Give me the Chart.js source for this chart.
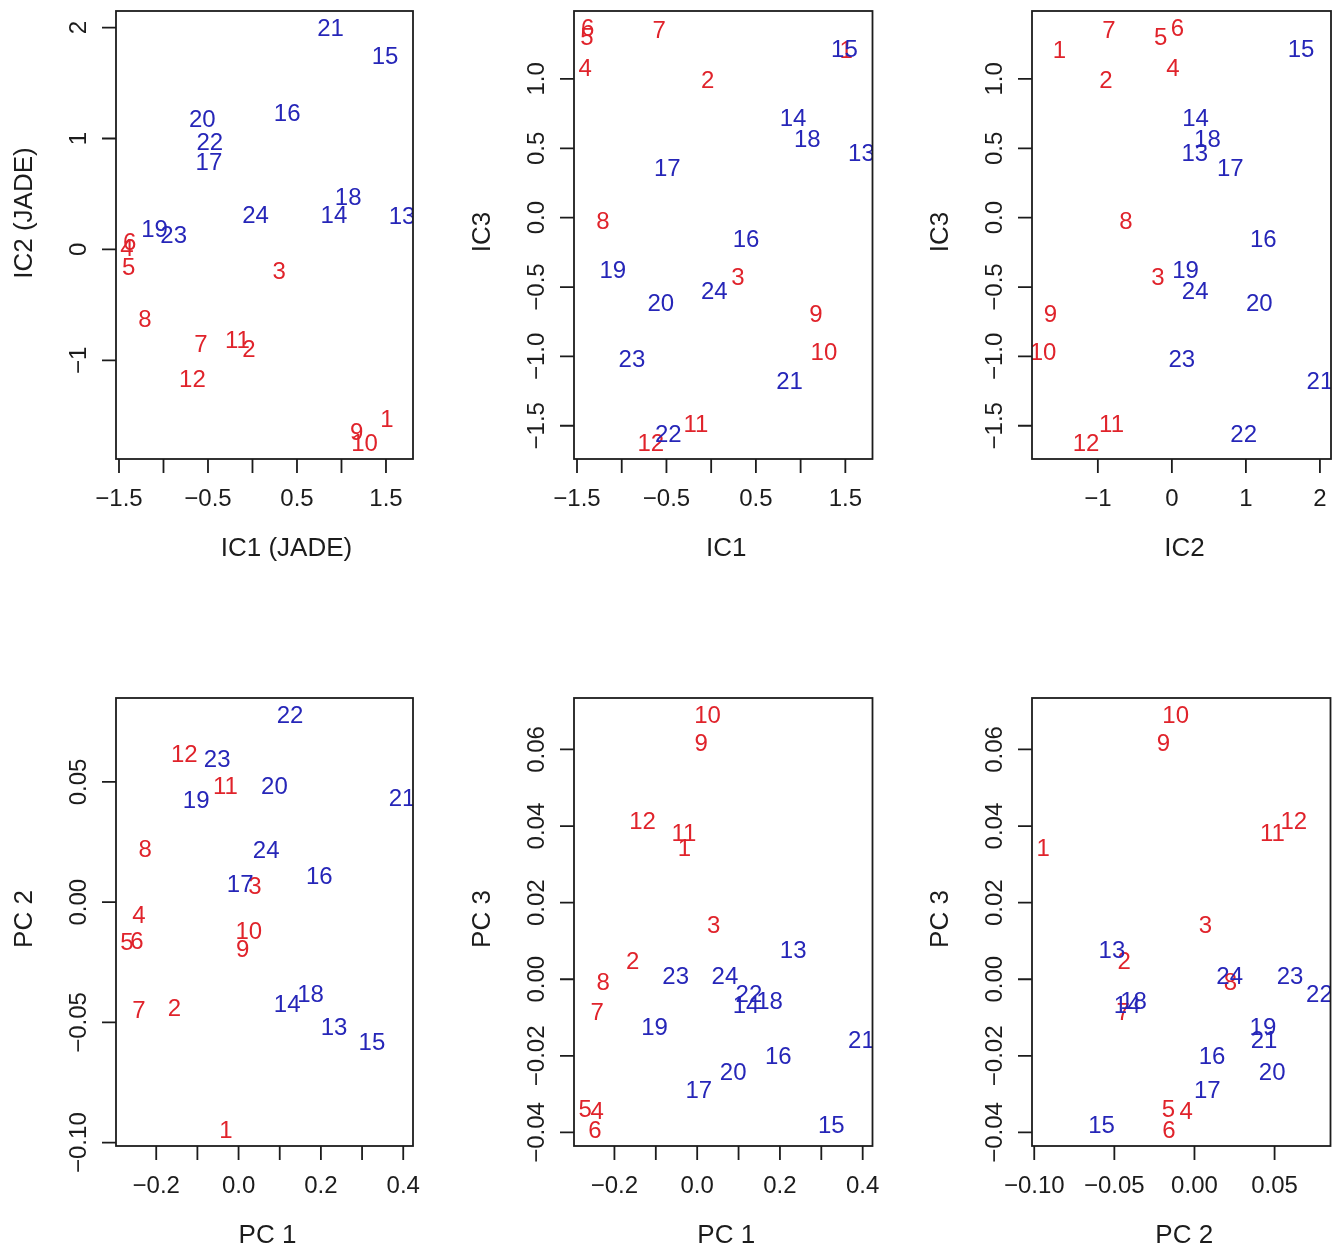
<!DOCTYPE html>
<html>
<head>
<meta charset="utf-8">
<script src="https://cdn.jsdelivr.net/npm/chart.js@4.4.1/dist/chart.umd.min.js"></script>
<style>
  html, body { margin: 0; padding: 0; background: #ffffff; }
  #wrap { position: relative; width: 1336px; height: 1249px; overflow: hidden; background: #ffffff; }
  #wrap canvas { position: absolute; }
</style>
</head>
<body>
<div id="wrap"></div>
<script>
// ---- samples: 1-12 (red group), 13-24 (blue group) ----
const sampleIds = [1, 2, 3, 4, 5, 6, 7, 8, 9, 10, 11, 12,
                   13, 14, 15, 16, 17, 18, 19, 20, 21, 22, 23, 24];

// independent components (JADE)
const ic1 = [1.51, -0.04, 0.30, -1.41, -1.39, -1.38, -0.58, -1.21, 1.17, 1.26, -0.17, -0.675,
             1.68, 0.915, 1.49, 0.39, -0.49, 1.075, -1.10, -0.564, 0.877, -0.48, -0.886, 0.035];
const ic2 = [-1.52, -0.89, -0.19, 0.015, -0.15, 0.075, -0.85, -0.62, -1.64, -1.74, -0.815, -1.16,
             0.31, 0.32, 1.745, 1.235, 0.79, 0.48, 0.185, 1.18, 2.0, 0.97, 0.134, 0.315];
const ic3 = [1.21, 0.995, -0.425, 1.08, 1.31, 1.37, 1.36, -0.017, -0.693, -0.964, -1.48, -1.62,
             0.469, 0.724, 1.222, -0.149, 0.359, 0.572, -0.372, -0.609, -1.174, -1.555, -1.016, -0.525];

// principal components
const pc1 = [-0.031, -0.156, 0.040, -0.242, -0.271, -0.247, -0.242, -0.227, 0.0098, 0.025, -0.032, -0.132,
             0.232, 0.118, 0.324, 0.196, 0.004, 0.175, -0.103, 0.087, 0.397, 0.125, -0.052, 0.067];
const pc2 = [-0.0945, -0.0438, 0.0068, -0.0051, -0.0162, -0.016, -0.0445, 0.0224, -0.0194, -0.0117, 0.0486, 0.062,
             -0.0515, -0.042, -0.058, 0.011, 0.008, -0.038, 0.0427, 0.0485, 0.0434, 0.078, 0.0597, 0.022];
const pc3 = [0.0345, 0.0049, 0.0144, -0.0342, -0.0338, -0.0392, -0.0084, -0.0006, 0.0619, 0.0691, 0.0384, 0.0415,
             0.0078, -0.0065, -0.0380, -0.0200, -0.0288, -0.0055, -0.0122, -0.0240, -0.0158, -0.0036, 0.0010, 0.0010];

// tick positions and their printed labels ('' = tick without label)
const ic1Ticks = [-1.5, -1, -0.5, 0, 0.5, 1, 1.5];
const ic1TickLabels = ['\u22121.5', '', '\u22120.5', '', '0.5', '', '1.5'];
const ic2Ticks = [-1, 0, 1, 2];
const ic2TickLabels = ['\u22121', '0', '1', '2'];
const ic3Ticks = [-1.5, -1, -0.5, 0, 0.5, 1];
const ic3TickLabels = ['\u22121.5', '\u22121.0', '\u22120.5', '0.0', '0.5', '1.0'];
const pc1Ticks = [-0.2, -0.1, 0, 0.1, 0.2, 0.3, 0.4];
const pc1TickLabels = ['\u22120.2', '', '0.0', '', '0.2', '', '0.4'];
const pc2Ticks = [-0.10, -0.05, 0, 0.05];
const pc2TickLabels = ['\u22120.10', '\u22120.05', '0.00', '0.05'];
const pc3Ticks = [-0.04, -0.02, 0, 0.02, 0.04, 0.06];
const pc3TickLabels = ['\u22120.04', '\u22120.02', '0.00', '0.02', '0.04', '0.06'];

// ---- styling ----
const FONT = '"Liberation Sans", Arial, Helvetica, sans-serif';
const CAP = 0.716;              // cap height of the face, in em
const RED = '#e0232b';
const BLUE = '#2626b8';
const INK = '#1c1c1c';
const LABEL_PX = 24;
const TICK_PX = 24;
const TITLE_PX = 26;
const TICK_LEN = 14;

// plot frames: [left, top, width, height] in page pixels; shift = title offset along its text
const panels = [
  { xs: ic1, ys: ic2, xt: ic1Ticks, xl: ic1TickLabels, yt: ic2Ticks, yl: ic2TickLabels,
    xTitle: 'IC1 (JADE)', yTitle: 'IC2 (JADE)', frame: [116, 11, 297, 448], shift: 22 },
  { xs: ic1, ys: ic3, xt: ic1Ticks, xl: ic1TickLabels, yt: ic3Ticks, yl: ic3TickLabels,
    xTitle: 'IC1', yTitle: 'IC3', frame: [574, 11, 298.5, 448], shift: 3 },
  { xs: ic2, ys: ic3, xt: ic2Ticks, xl: ic2TickLabels, yt: ic3Ticks, yl: ic3TickLabels,
    xTitle: 'IC2', yTitle: 'IC3', frame: [1032, 11, 299, 448], shift: 3 },
  { xs: pc1, ys: pc2, xt: pc1Ticks, xl: pc1TickLabels, yt: pc2Ticks, yl: pc2TickLabels,
    xTitle: 'PC 1', yTitle: 'PC 2', frame: [116, 698, 297, 448], shift: 3 },
  { xs: pc1, ys: pc3, xt: pc1Ticks, xl: pc1TickLabels, yt: pc3Ticks, yl: pc3TickLabels,
    xTitle: 'PC 1', yTitle: 'PC 3', frame: [574, 698, 298.5, 448], shift: 3 },
  { xs: pc2, ys: pc3, xt: pc2Ticks, xl: pc2TickLabels, yt: pc3Ticks, yl: pc3TickLabels,
    xTitle: 'PC 2', yTitle: 'PC 3', frame: [1032, 698, 298.5, 448], shift: 3 }
];

// axis limits: data range widened by 4% on each side
function paddedRange(vals) {
  const lo = Math.min(...vals), hi = Math.max(...vals);
  const pad = (hi - lo) * 0.04;
  return { min: lo - pad, max: hi + pad };
}

// text centred on (x, y) using the cap height for the vertical middle
function centred(ctx, str, x, y, size, color) {
  ctx.font = size + 'px ' + FONT;
  ctx.fillStyle = color;
  ctx.textAlign = 'center';
  ctx.textBaseline = 'alphabetic';
  ctx.fillText(str, x, y + size * CAP / 2);
}
function centredUp(ctx, str, x, y, size, color) {
  ctx.save();
  ctx.translate(x, y);
  ctx.rotate(-Math.PI / 2);
  centred(ctx, str, 0, 0, size, color);
  ctx.restore();
}

// frame, tick marks, tick labels and axis titles, placed through the chart's scales
const frameAxes = {
  id: 'frameAxes',
  afterDraw(chart, args, o) {
    const { ctx, chartArea: a } = chart;
    const xs = chart.scales.x, ys = chart.scales.y;
    ctx.save();
    ctx.strokeStyle = INK;
    ctx.lineWidth = 1.8;
    ctx.strokeRect(a.left, a.top, a.right - a.left, a.bottom - a.top);

    ctx.beginPath();
    o.xTicks.forEach(v => {
      const px = xs.getPixelForValue(v);
      ctx.moveTo(px, a.bottom);
      ctx.lineTo(px, a.bottom + TICK_LEN);
    });
    o.yTicks.forEach(v => {
      const py = ys.getPixelForValue(v);
      ctx.moveTo(a.left, py);
      ctx.lineTo(a.left - TICK_LEN, py);
    });
    ctx.stroke();

    o.xTicks.forEach((v, i) => {
      if (o.xLabels[i]) centred(ctx, o.xLabels[i], xs.getPixelForValue(v), a.bottom + 38.5, TICK_PX, INK);
    });
    o.yTicks.forEach((v, i) => {
      if (o.yLabels[i]) centredUp(ctx, o.yLabels[i], a.left - 39, ys.getPixelForValue(v), TICK_PX, INK);
    });

    centred(ctx, o.xTitle, (a.left + a.right) / 2 + o.shift, a.bottom + 88, TITLE_PX, INK);
    centredUp(ctx, o.yTitle, a.left - 93, (a.top + a.bottom) / 2 - o.shift, TITLE_PX, INK);
    ctx.restore();
  }
};

// sample numbers written at each point, clipped to the plot region
const sampleText = {
  id: 'sampleText',
  afterDatasetsDraw(chart) {
    const { ctx, chartArea: a } = chart;
    ctx.save();
    ctx.beginPath();
    ctx.rect(a.left, a.top, a.right - a.left, a.bottom - a.top);
    ctx.clip();
    chart.data.datasets.forEach((ds, di) => {
      const meta = chart.getDatasetMeta(di);
      meta.data.forEach((el, j) => {
        centred(ctx, String(ds.ids[j]), el.x, el.y, LABEL_PX, ds.textColor);
      });
    });
    ctx.restore();
  }
};

const wrap = document.getElementById('wrap');
const PAD = { left: 116, top: 11, right: 8, bottom: 115 };

panels.forEach(p => {
  const [fl, ft, fw, fh] = p.frame;
  const canvas = document.createElement('canvas');
  const w = Math.round(fw + PAD.left + PAD.right);
  const h = Math.round(fh + PAD.top + PAD.bottom);
  canvas.width = w;
  canvas.height = h;
  canvas.style.width = w + 'px';
  canvas.style.height = h + 'px';
  canvas.style.left = (fl - PAD.left) + 'px';
  canvas.style.top = (ft - PAD.top) + 'px';
  wrap.appendChild(canvas);

  const pick = (lo, hi) => sampleIds.slice(lo, hi).map((id, k) => ({ x: p.xs[lo + k], y: p.ys[lo + k] }));
  const xr = paddedRange(p.xs), yr = paddedRange(p.ys);

  new Chart(canvas, {
    type: 'scatter',
    data: {
      datasets: [
        { label: '1-12', ids: sampleIds.slice(0, 12), data: pick(0, 12), textColor: RED,
          pointRadius: 0, pointHoverRadius: 0, borderColor: RED, backgroundColor: RED },
        { label: '13-24', ids: sampleIds.slice(12, 24), data: pick(12, 24), textColor: BLUE,
          pointRadius: 0, pointHoverRadius: 0, borderColor: BLUE, backgroundColor: BLUE }
      ]
    },
    options: {
      responsive: false,
      devicePixelRatio: 1,
      animation: false,
      events: [],
      layout: { padding: { left: PAD.left, top: PAD.top, right: w - PAD.left - fw, bottom: h - PAD.top - fh } },
      scales: {
        x: { type: 'linear', display: false, min: xr.min, max: xr.max },
        y: { type: 'linear', display: false, min: yr.min, max: yr.max }
      },
      plugins: {
        legend: { display: false },
        tooltip: { enabled: false },
        frameAxes: { xTicks: p.xt, xLabels: p.xl, yTicks: p.yt, yLabels: p.yl,
                     xTitle: p.xTitle, yTitle: p.yTitle, shift: p.shift }
      }
    },
    plugins: [frameAxes, sampleText]
  });
});
</script>
</body>
</html>
